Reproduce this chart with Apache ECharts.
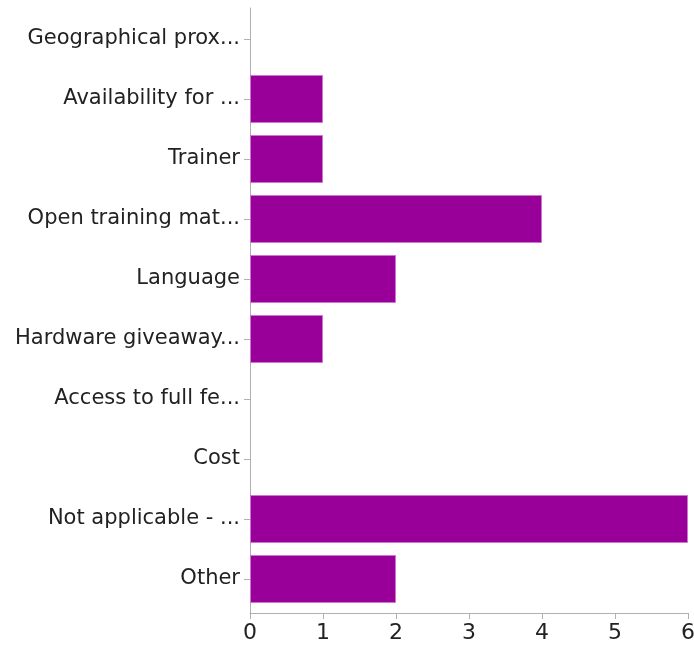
<!DOCTYPE html>
<html><head><meta charset="utf-8">
<script src="https://cdn.jsdelivr.net/npm/echarts@6/dist/echarts.min.js"></script>
<style>html,body{margin:0;padding:0;background:#fff}#c{width:694px;height:647px}</style>
</head><body><div id="c"></div>
<script>
const categories = ["Geographical prox...","Availability for ...","Trainer","Open training mat...","Language","Hardware giveaway...","Access to full fe...","Cost","Not applicable - ...","Other"];
const values = [0,1,1,4,2,1,0,0,6,2];
const xTicks = [0,1,2,3,4,5,6];

const font = 'DejaVu Sans, Liberation Sans, Arial, sans-serif';
const axisColor = '#b0b0b0';
const chart = echarts.init(document.getElementById('c'));
chart.setOption({
  animation:false,
  grid:[
    {left:250,right:6,top:9,bottom:38,containLabel:false,outerBoundsMode:'none'},
    {left:250,right:6,top:8,bottom:34,containLabel:false,outerBoundsMode:'none'}
  ],
  xAxis:[
    {gridIndex:0,type:'value',min:xTicks[0],max:xTicks[xTicks.length-1],interval:1,show:false},
    {gridIndex:1,type:'value',min:xTicks[0],max:xTicks[xTicks.length-1],interval:1,
      axisLine:{show:true,lineStyle:{color:axisColor,width:1}},
      axisTick:{show:true,length:6,lineStyle:{color:axisColor}},
      splitLine:{show:false},
      axisLabel:{color:'#222',fontSize:22,fontFamily:font,margin:9}}
  ],
  yAxis:[
    {gridIndex:0,type:'category',data:categories,inverse:true,
      axisLine:{show:false},
      axisTick:{show:true,alignWithLabel:true,length:6,lineStyle:{color:axisColor}},
      axisLabel:{color:'#222',fontSize:21,fontFamily:font,margin:10}},
    {gridIndex:1,type:'value',min:0,max:1,
      axisLine:{show:true,lineStyle:{color:axisColor,width:1}},
      axisTick:{show:false},axisLabel:{show:false},splitLine:{show:false}}
  ],
  series:[{type:'bar',xAxisIndex:0,yAxisIndex:0,barCategoryGap:'20%',
    data:values.map(v => ({value:v, itemStyle:{borderWidth: v > 0 ? 1 : 0}})),
    itemStyle:{color:'#990099',borderColor:'#cc77cc',borderWidth:1}}]
});
</script></body></html>
